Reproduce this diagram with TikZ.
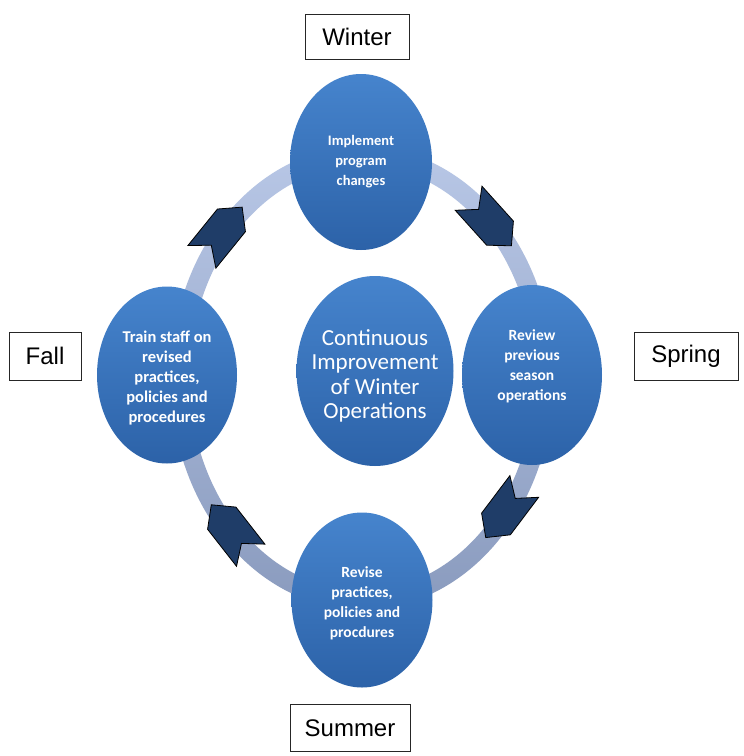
\documentclass[tikz,border=0pt]{standalone}
\usepackage{fontspec}
\setmainfont{Liberation Sans}
\newfontfamily\calfont{Carlito}
\usetikzlibrary{shapes.geometric}
\definecolor{ringTop}{RGB}{184,199,230}
\definecolor{ringBot}{RGB}{138,155,190}
\definecolor{chevc}{RGB}{31,61,104}
\definecolor{blueTop}{RGB}{70,132,205}
\definecolor{blueBot}{RGB}{44,98,168}
\begin{document}
\begin{tikzpicture}[x=1pt,y=-1pt,
  bubble/.style={ellipse, draw=none, top color=blueTop, bottom color=blueBot, inner sep=0pt},
  season/.style={draw=black!85, line width=0.8pt, fill=white, font=\fontsize{24}{28}\selectfont, inner sep=0pt},
  btext/.style={text=white, align=center, font=\calfont\bfseries\fontsize{15.5}{20}\selectfont},
  ctext/.style={text=white, align=center, font=\calfont\fontsize{23}{24.5}\selectfont},
  chev/.style={fill=chevc, draw=black, line width=0.8pt, line join=miter},
  chevron/.pic={\draw[chev] (-32,-18) -- (15,-18) -- (32,0) -- (15,18) -- (-32,18) -- (-17,0) -- cycle;}]
\useasboundingbox (0,0) rectangle (744,756);
\fill[white] (0,0) rectangle (744,756);
% ring
\path[top color=ringTop, bottom color=ringBot, even odd rule]
  (362,378) ellipse [x radius=191.5, y radius=231.5]
  (362,378) ellipse [x radius=172.5, y radius=212.5];
% chevrons
\pic[rotate=51] at (222,232) {chevron};
\pic[rotate=-48] at (490,222) {chevron};
\pic[rotate=-127] at (505,512) {chevron};
\pic[rotate=128] at (231,530) {chevron};
% bubbles
\node[bubble, minimum width=142, minimum height=176] (win) at (361,162) {};
\node[bubble, minimum width=140, minimum height=180] (spr) at (532,375) {};
\node[bubble, minimum width=141, minimum height=175] (sum) at (362,600) {};
\node[bubble, minimum width=140, minimum height=177] (fal) at (167,375) {};
\node[bubble, minimum width=157, minimum height=190] (ctr) at (375,371) {};
\node[btext, font=\calfont\bfseries\fontsize{14.5}{20}\selectfont] (wint) at (win.center) {Implement\\program\\changes};
\node[btext] (sprt) at ([yshift=9pt]spr.center) {Review\\previous\\season\\operations};
\node[btext] (sumt) at ([yshift=-3pt]sum.center) {Revise\\practices,\\policies and\\procdures};
\node[btext, font=\calfont\bfseries\fontsize{16.5}{20}\selectfont] (falt) at ([yshift=-3pt]fal.center) {Train staff on\\revised\\practices,\\policies and\\procedures};
\node[ctext] (ctrt) at ([yshift=-5pt]ctr.center) {Continuous\\Improvement\\of Winter\\Operations};
% season labels
\node[season, minimum width=104, minimum height=45] (lw) at (357,37) {Winter};
\node[season, minimum width=104, minimum height=48] (ls) at (686,356) {Spring};
\node[season, minimum width=72, minimum height=48] (lf) at (45,356) {Fall};
\node[season, minimum width=120, minimum height=47] (lsu) at (350,728) {Summer};
\end{tikzpicture}
\end{document}
